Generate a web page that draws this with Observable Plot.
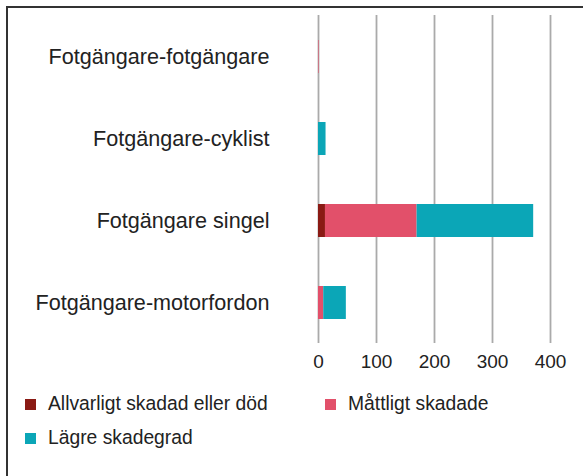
<!DOCTYPE html>
<html>
<head>
<meta charset="utf-8">
<script src="https://cdn.jsdelivr.net/npm/d3@7"></script>
<script src="https://cdn.jsdelivr.net/npm/@observablehq/plot@0.6"></script>
<style>
  html, body { margin: 0; padding: 0; background: #fff; }
  #wrap { position: relative; width: 583px; height: 476px; overflow: hidden; font-family: "Liberation Sans", Arial, sans-serif; color: #222; }
  #frame { position: absolute; left: 6px; top: 6px; right: -10px; bottom: -10px; border-left: 2px solid #333; border-top: 2px solid #333; pointer-events: none; }
  #chart { position: absolute; left: 0; top: 0; }
  .leg { position: absolute; font-size: 19.3px; line-height: 20px; white-space: nowrap; }
  .sw { position: absolute; width: 11px; height: 11px; }
</style>
</head>
<body>
<div id="wrap">
  <div id="chart"></div>
  <div id="legend"></div>
  <div id="frame"></div>
</div>
<script>
const categories = ["Fotgängare-fotgängare", "Fotgängare-cyklist", "Fotgängare singel", "Fotgängare-motorfordon"];
const seriesNames = ["Allvarligt skadad eller död", "Måttligt skadade", "Lägre skadegrad"];
const allvarligt = [0, 0, 12, 0];
const mattligt = [1, 0, 158, 9];
const lagre = [0, 13, 201, 39];
const seriesColors = ["#8a1a14", "#e2506a", "#0ba6b7"];
const xTicks = [0, 100, 200, 300, 400];

const seriesValues = [allvarligt, mattligt, lagre];
const rows = [];
categories.forEach((c, i) => {
  seriesNames.forEach((s, j) => rows.push({cat: c, series: s, value: seriesValues[j][i]}));
});

const chart = Plot.plot({
  width: 583,
  height: 375,
  marginLeft: 318,
  marginRight: 33,
  marginTop: 15,
  marginBottom: 32,
  style: {fontFamily: '"Liberation Sans", Arial, sans-serif', fontSize: "20px", color: "#222", background: "transparent"},
  x: {domain: [0, 400], ticks: xTicks},
  y: {domain: categories, paddingInner: 0.6, paddingOuter: 0.3},
  color: {domain: seriesNames, range: seriesColors},
  marks: [
    Plot.ruleX(xTicks, {stroke: "#aaa", strokeWidth: 1.8}),
    Plot.barX(rows, Plot.stackX({y: "cat", x: "value", fill: "series", order: seriesNames})),
    Plot.axisX({ticks: xTicks, tickSize: 0, tickPadding: 11, fontSize: "19px", label: null}),
    Plot.axisY({tickSize: 0, tickPadding: 49, fontSize: "21.6px", label: null})
  ]
});
document.getElementById("chart").appendChild(chart);

const legendPos = [{x: 25, y: 399}, {x: 325, y: 399}, {x: 25, y: 433}];
const legend = document.getElementById("legend");
seriesNames.forEach((s, i) => {
  const p = legendPos[i];
  const sw = document.createElement("div");
  sw.className = "sw";
  sw.style.left = p.x + "px";
  sw.style.top = p.y + "px";
  sw.style.background = seriesColors[i];
  legend.appendChild(sw);
  const t = document.createElement("div");
  t.className = "leg";
  t.style.left = (p.x + 23) + "px";
  t.style.top = (p.y - 5) + "px";
  t.textContent = s;
  legend.appendChild(t);
});
</script>
</body>
</html>
